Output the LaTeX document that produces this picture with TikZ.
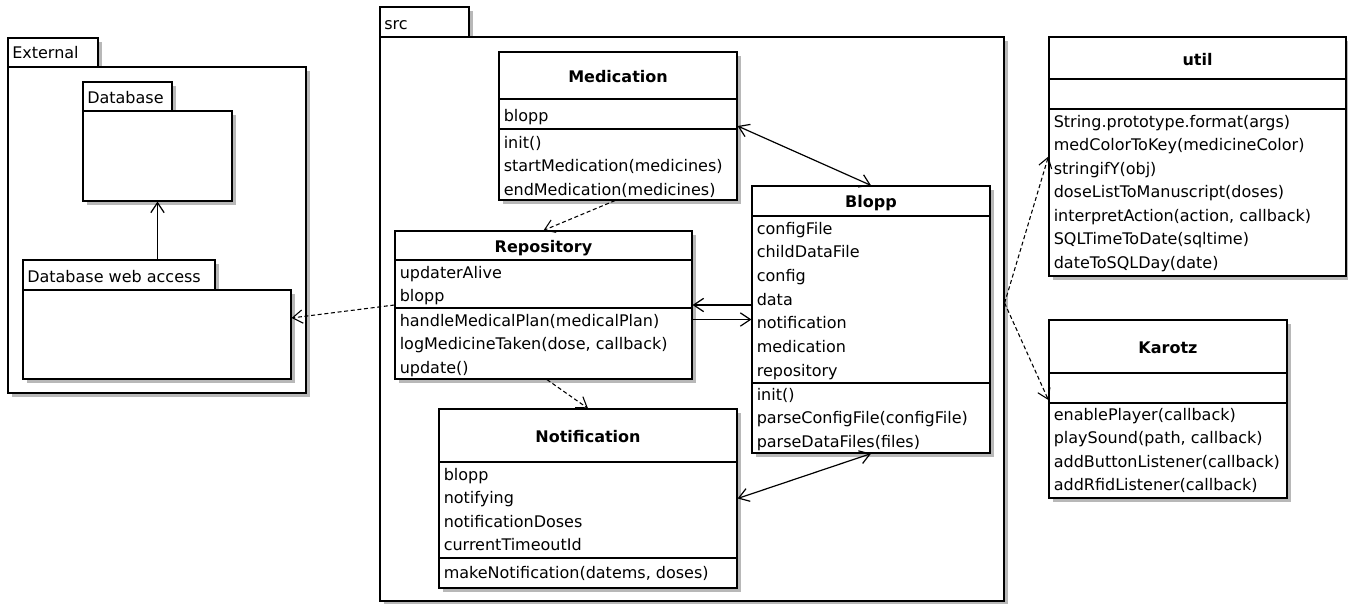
\documentclass[tikz,border=0pt]{standalone}
\usepackage{fontspec}
\setmainfont{DejaVu Sans}
\usetikzlibrary{arrows.meta,fit,shadows}

\tikzset{
  box/.style={draw, fill=white, inner sep=0pt, line width=0.9pt,
    drop shadow={shadow xshift=2.8pt, shadow yshift=-2.8pt, fill=black!28, opacity=1}},
  member/.style={anchor=base west, inner sep=0pt},
  title/.style={anchor=base, inner sep=0pt, font=\fontsize{12}{14}\selectfont\bfseries},
  assoc/.style={line width=0.9pt},
  dep/.style={line width=0.8pt, ->, dash pattern=on 3pt off 2pt},
}

\begin{document}
\begin{tikzpicture}[x=0.75pt, y=-0.75pt, font=\fontsize{12}{14}\selectfont,
  >={Straight Barb[length=7.5pt,width=10pt]}]
  \useasboundingbox (0,0) rectangle (1348,603);

  % packages
  \node[box, fit={(8,38) (98,67)}] (exttab) {};
  \node[box, fit={(8,67) (306,393)}] (ext) {};
  \node[member] (extlabel) at (12,58) {External};
  \node[box, fit={(83,82) (172,111)}] (dbtab) {};
  \node[box, fit={(83,111) (232,201)}] (db) {};
  \node[member] (dblabel) at (87,103) {Database};
  \node[box, fit={(23,260) (215,290)}] (dwatab) {};
  \node[box, fit={(23,290) (291,379)}] (dwa) {};
  \node[member] (dwalabel) at (27,282) {Database web access};
  \node[box, fit={(380,7) (469,37)}] (srctab) {};
  \node[box, fit={(380,37) (1004,601)}] (src) {};
  \node[member] (srclabel) at (384,29) {src};

  % Medication
  \node[box, fit={(499,52) (737,200)}] (med) {};
  \draw[assoc] (499,99) -- (737,99) (499,129) -- (737,129);
  \node[title] (medtitle) at (618,82) {Medication};
  \node[member] (med-a0) at (503.5,121) {blopp};
  \foreach \m [count=\i from 0] in {init(), startMedication(medicines), endMedication(medicines)}
    \node[member] (med-m\i) at (503.5,148+23.5*\i) {\m};

  % Repository
  \node[box, fit={(395,231) (692,379)}] (repo) {};
  \draw[assoc] (395,260) -- (692,260) (395,308) -- (692,308);
  \node[title] (repotitle) at (543.5,252) {Repository};
  \foreach \m [count=\i from 0] in {updaterAlive, blopp}
    \node[member] (repo-a\i) at (399.5,278+23.7*\i) {\m};
  \foreach \m [count=\i from 0] in {handleMedicalPlan(medicalPlan), {logMedicineTaken(dose, callback)}, update()}
    \node[member] (repo-m\i) at (399.5,326+23.6*\i) {\m};

  % Notification
  \node[box, fit={(439,409) (737,588)}] (notif) {};
  \draw[assoc] (439,462) -- (737,462) (439,558) -- (737,558);
  \node[title] (notiftitle) at (588,442) {Notification};
  \foreach \m [count=\i from 0] in {blopp, notifying, notificationDoses, currentTimeoutId}
    \node[member] (notif-a\i) at (443.5,480+23.5*\i) {\m};
  \node[member] (notif-m0) at (443.5,578) {makeNotification(datems, doses)};

  % Blopp
  \node[box, fit={(752,186) (990,453)}] (blopp) {};
  \draw[assoc] (752,216) -- (990,216) (752,383) -- (990,383);
  \node[title] (bopptitle) at (871,207) {Blopp};
  \foreach \m [count=\i from 0] in {configFile, childDataFile, config, data, notification, medication, repository}
    \node[member] (blopp-a\i) at (756.5,234+23.7*\i) {\m};
  \foreach \m [count=\i from 0] in {init(), parseConfigFile(configFile), parseDataFiles(files)}
    \node[member] (blopp-m\i) at (756.5,400+23.7*\i) {\m};

  % util
  \node[box, fit={(1049,37) (1346,276)}] (util) {};
  \draw[assoc] (1049,79) -- (1346,79) (1049,109) -- (1346,109);
  \node[title] (utiltitle) at (1197.5,65) {util};
  \foreach \m [count=\i from 0] in {String.prototype.format(args), medColorToKey(medicineColor), stringifY(obj),
      doseListToManuscript(doses), {interpretAction(action, callback)}, SQLTimeToDate(sqltime), dateToSQLDay(date)}
    \node[member] (util-m\i) at (1053.5,127+23.5*\i) {\m};

  % Karotz
  \node[box, fit={(1049,320) (1287,498)}] (karotz) {};
  \draw[assoc] (1049,373) -- (1287,373) (1049,403) -- (1287,403);
  \node[title] (karotztitle) at (1168,353) {Karotz};
  \foreach \m [count=\i from 0] in {enablePlayer(callback), {playSound(path, callback)}, addButtonListener(callback), addRfidListener(callback)}
    \node[member] (karotz-m\i) at (1053.5,420+23.5*\i) {\m};

  % relations
  \draw[assoc, ->] (db.south |- dwatab.north) -- (db.south);
  \draw[assoc, <->] (med.east) -- (blopp.north);
  \draw[dep] ([xshift=-2.25pt]med.south) -- (repo.north);
  \draw[assoc, ->] (repo.east -| blopp.west) -- (repo.east);
  \draw[assoc, ->] (blopp.west -| repo.east) -- (blopp.west);
  \draw[dep] ([xshift=2.6pt]repo.south) -- (notif.north);
  \draw[assoc, <->] (blopp.south) -- (notif.east);
  \draw[dep] (repo.west) -- ([yshift=12.4pt]dwa.east);
  \coordinate (hub) at ([yshift=12pt]src.east);
  \draw[dep] (hub) -- (util.west);
  \draw[dep] (hub) -- ([yshift=6.75pt]karotz.west);
\end{tikzpicture}
\end{document}
